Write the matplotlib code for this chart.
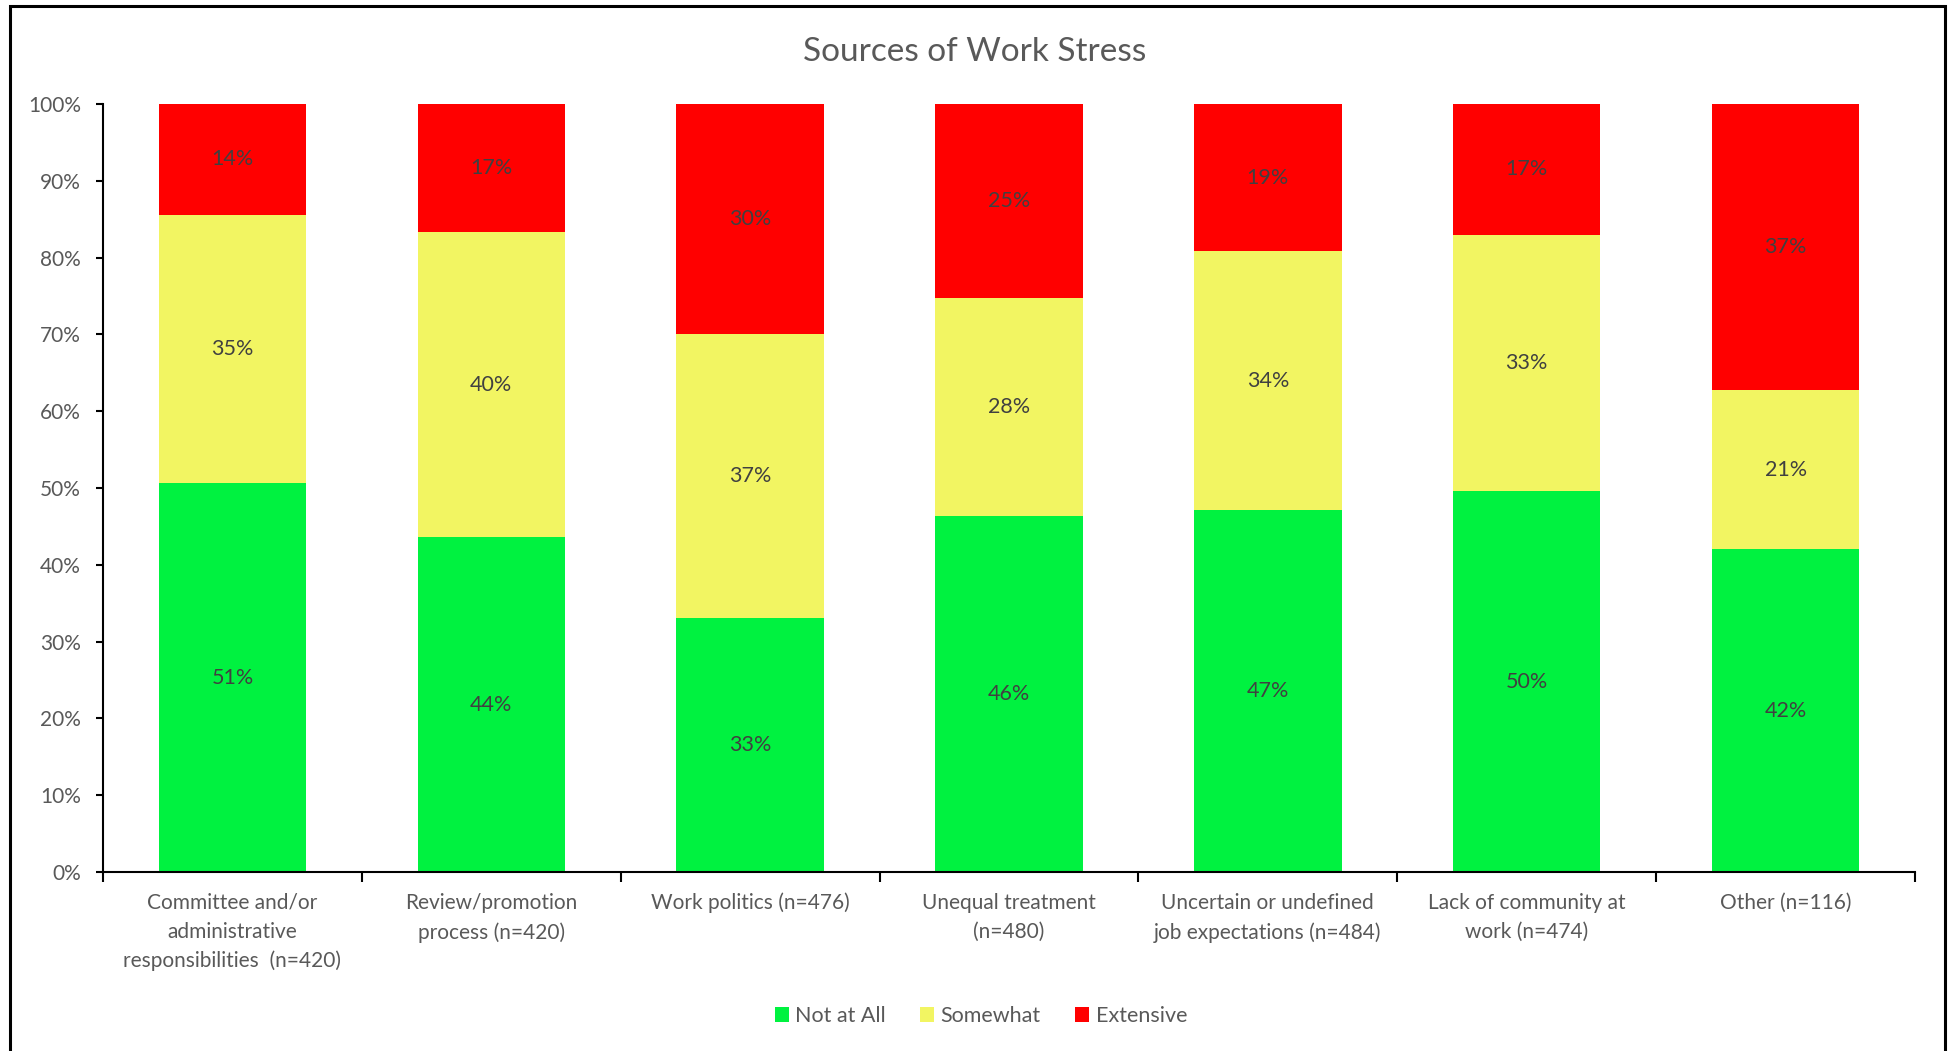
import numpy as np
import matplotlib
matplotlib.use('Agg')
import matplotlib.pyplot as plt
from matplotlib.patches import Rectangle

plt.rcParams['font.family'] = ['Lato', 'DejaVu Sans']

# データ
categories = [
    'Committee and/or\nadministrative\nresponsibilities  (n=420)',
    'Review/promotion\nprocess (n=420)',
    'Work politics (n=476)',
    'Unequal treatment\n(n=480)',
    'Uncertain or undefined\njob expectations (n=484)',
    'Lack of community at\nwork (n=474)',
    'Other (n=116)',
]
not_at_all = [50.6, 43.6, 33.1, 46.3, 47.1, 49.6, 42.0]
somewhat = [35.0, 39.7, 37.0, 28.4, 33.7, 33.4, 20.8]
extensive = [14.4, 16.7, 29.9, 25.3, 19.2, 17.0, 37.2]

series_names = ['Not at All', 'Somewhat', 'Extensive']
colors = ['#00F240', '#F2F562', '#FF0000']

fig = plt.figure(figsize=(19.52, 10.51), dpi=100)
ax = fig.add_axes([103 / 1952, 1 - 872 / 1051, (1915 - 103) / 1952, (872 - 104) / 1051])

x = np.arange(len(categories))
bottom = np.zeros(len(categories))
for name, vals, col in zip(series_names, [not_at_all, somewhat, extensive], colors):
    vals = np.array(vals)
    ax.bar(x, vals, 0.57, bottom=bottom, color=col, label=name, edgecolor='none')
    for xi, b, v in zip(x, bottom, vals):
        ax.text(xi, b + v / 2, f'{v:.0f}%', ha='center', va='center',
                fontsize=15.5, color='#404040')
    bottom += vals

ax.set_xlim(-0.5, len(categories) - 0.5)
ax.set_ylim(0, 100)
ax.set_yticks(np.arange(0, 101, 10))
ax.set_yticklabels([f'{t}%' for t in range(0, 101, 10)])
ax.set_xticks(x)
ax.set_xticklabels(categories, linespacing=1.55)
ax.set_xticks(np.arange(-0.5, len(categories)), minor=True)

for s in ['top', 'right']:
    ax.spines[s].set_visible(False)
for s in ['left', 'bottom']:
    ax.spines[s].set_linewidth(1.5)
    ax.spines[s].set_color('black')

ax.tick_params(axis='y', length=5, width=1.5, pad=11, labelsize=15, labelcolor='#595959')
ax.tick_params(axis='x', which='major', length=0, pad=15, labelsize=15, labelcolor='#595959')
ax.tick_params(axis='x', which='minor', length=7, width=1.5)

fig.text(975 / 1952, 1 - 52 / 1051, 'Sources of Work Stress', ha='center', va='center',
         fontsize=24, color='#595959')

leg = fig.legend(loc='center', bbox_to_anchor=(981 / 1952, 1 - 1016 / 1051), ncol=3,
                 frameon=False, fontsize=15.5, handlelength=0.65, handleheight=0.65,
                 handletextpad=0.3, columnspacing=1.6)
for t in leg.get_texts():
    t.set_color('#595959')

# 外枠
fig.patches.append(Rectangle((10 / 1952, -0.1), (1945 - 10) / 1952, 1.1 - 6 / 1051,
                             transform=fig.transFigure, fill=False, edgecolor='black',
                             linewidth=2.2, clip_on=False))

plt.savefig('out.png', dpi=100)
